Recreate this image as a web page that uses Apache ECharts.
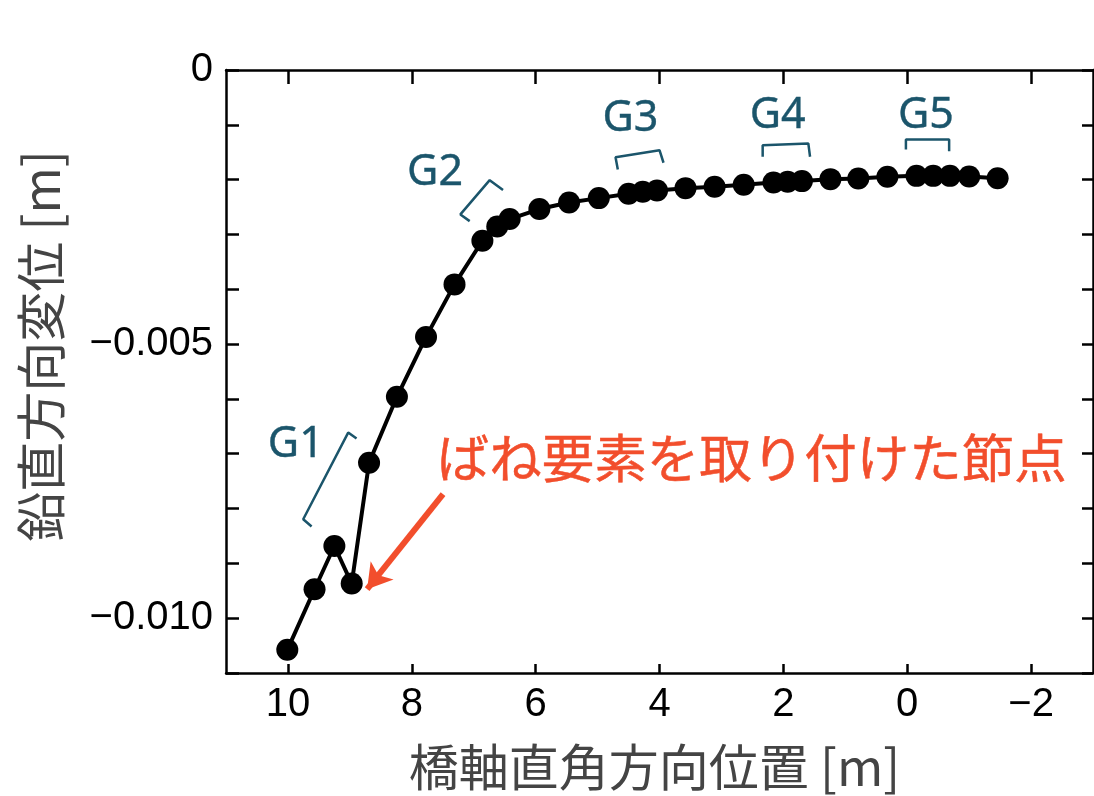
<!DOCTYPE html>
<html>
<head>
<meta charset="utf-8">
<script src="https://cdn.jsdelivr.net/npm/echarts@6/dist/echarts.min.js"></script>
<style>
  html, body { margin: 0; padding: 0; background: #fff; }
  #chart { width: 1094px; height: 796px; }
</style>
</head>
<body>
<div id="chart"></div>
<script>
// Node positions across the bridge axis [m] and their vertical displacement [m]
const nodeX = [10.01, 9.57, 9.25, 8.97, 8.69, 8.24, 7.77, 7.31, 6.86, 6.62, 6.42, 5.94, 5.46,
               4.98, 4.50, 4.27, 4.04, 3.58, 3.11, 2.64, 2.16, 1.93, 1.70, 1.24, 0.79, 0.32,
               -0.15, -0.42, -0.69, -1.00, -1.46];
const nodeY = [-0.010577, -0.009472, -0.008683, -0.009368, -0.007164, -0.005962, -0.004869,
               -0.003911, -0.003115, -0.002854, -0.002719, -0.002537, -0.002417,
               -0.002337, -0.002259, -0.002222, -0.002199, -0.002155, -0.002131, -0.002095,
               -0.002053, -0.002040, -0.002027, -0.001991, -0.001980, -0.001949,
               -0.001931, -0.001931, -0.001931, -0.001944, -0.001973];

// Axis ticks and labels
const xTickValues = [10, 8, 6, 4, 2, 0, -2];
const yLabelValues = [0, -0.005, -0.010];
const yTickValues = [0, -0.001, -0.002, -0.003, -0.004, -0.005, -0.006, -0.007, -0.008, -0.009, -0.010, -0.011];

// Girder groups: label anchor and bracket polyline, in data units
const groupNames = ['G1', 'G2', 'G3', 'G4', 'G5'];
const groupLabelX = [9.873, 7.624, 4.471, 2.092, -0.301];
const groupLabelY = [-0.006828, -0.001875, -0.000887, -0.000826, -0.000826];
const bracketX = [
  [9.618, 9.753, 9.027, 8.892],
  [7.065, 7.215, 6.742, 6.527],
  [4.673, 4.710, 4.000, 3.935],
  [2.334, 2.334, 1.597, 1.569],
  [0.021, 0.021, -0.677, -0.677]
];
const bracketY = [
  [-0.008328, -0.008195, -0.006614, -0.006724],
  [-0.002757, -0.002634, -0.002009, -0.002191],
  [-0.001814, -0.001590, -0.001462, -0.001692],
  [-0.001583, -0.001371, -0.001340, -0.001583],
  [-0.001449, -0.001267, -0.001267, -0.001480]
];

// Callout for the node carrying the spring element
const calloutText = 'ばね要素を取り付けた節点';
const calloutPos = [7.597, -0.007083];
const arrowFrom = [7.495, -0.007739];
const arrowTo = [8.721, -0.009471];

const teal = '#1b556b';
const red = '#f24e2c';
const tickFont = 'Liberation Sans, Arial, sans-serif';
const cjkFont = '"Noto Sans CJK JP", sans-serif';

const fmtNum = v => {
  if (Math.abs(v) < 1e-12) return '0';
  const s = Math.abs(v) < 1 ? Math.abs(v).toFixed(3) : String(Math.abs(v));
  return (v < 0 ? '\u2212' : '') + s;
};

const chart = echarts.init(document.getElementById('chart'), null, { renderer: 'canvas' });

const bracketSeries = bracketX.map((bx, i) => ({
  type: 'line',
  xAxisIndex: 0, yAxisIndex: 0,
  data: bx.map((x, j) => [x, bracketY[i][j]]),
  symbol: 'none',
  silent: true,
  lineStyle: { color: teal, width: 2.5 },
  z: 3
}));

const axisLineStyle = { show: true, onZero: false, lineStyle: { color: '#000', width: 2.5 } };

chart.setOption({
  animation: false,
  backgroundColor: '#fff',
  grid: { left: 226, top: 70, right: 1, bottom: 123, containLabel: false, outerBoundsMode: 'none' },
  xAxis: [
    {
      type: 'value', position: 'bottom', min: -3, max: 11, inverse: true,
      axisLine: axisLineStyle,
      axisTick: { show: true, inside: true, length: 9, customValues: xTickValues, lineStyle: { color: '#000', width: 2.5 } },
      axisLabel: { show: true, customValues: xTickValues, formatter: v => fmtNum(v), color: '#000',
                   fontFamily: tickFont, fontSize: 40, margin: 12 },
      splitLine: { show: false },
      name: '橋軸直角方向位置 [m]', nameLocation: 'middle', nameGap: 69,
      nameTextStyle: { fontFamily: cjkFont, fontSize: 50, color: '#444', padding: [0, 10, 0, 0] }
    },
    {
      type: 'value', position: 'top', min: -3, max: 11, inverse: true,
      axisLine: axisLineStyle,
      axisTick: { show: true, inside: true, length: 14, customValues: xTickValues, lineStyle: { color: '#000', width: 2.5 } },
      axisLabel: { show: false },
      splitLine: { show: false }
    }
  ],
  yAxis: [
    {
      type: 'value', position: 'left', min: -0.011, max: 0,
      axisLine: axisLineStyle,
      axisTick: { show: true, inside: true, length: 13, customValues: yTickValues, lineStyle: { color: '#000', width: 2.5 } },
      axisLabel: { show: true, customValues: yLabelValues, formatter: v => fmtNum(v), color: '#000',
                   fontFamily: tickFont, fontSize: 40, margin: 13 },
      splitLine: { show: false }
    },
    {
      type: 'value', position: 'right', min: -0.011, max: 0,
      axisLine: axisLineStyle,
      axisTick: { show: true, inside: true, length: 11, customValues: yTickValues, lineStyle: { color: '#000', width: 2.5 } },
      axisLabel: { show: false },
      splitLine: { show: false }
    }
  ],
  graphic: [{
    type: 'text',
    x: 41, y: 346, rotation: Math.PI / 2,
    style: { text: '鉛直方向変位 [m]', font: '50px "Noto Sans CJK JP", sans-serif', fill: '#444',
             align: 'center', verticalAlign: 'middle' }
  }],
  series: [
    {
      name: 'displacement',
      type: 'line',
      xAxisIndex: 0, yAxisIndex: 0,
      data: nodeX.map((x, i) => [x, nodeY[i]]),
      symbol: 'circle', symbolSize: 22,
      itemStyle: { color: '#000' },
      lineStyle: { color: '#000', width: 4 },
      z: 5
    },
    ...bracketSeries,
    {
      name: 'groups',
      type: 'scatter',
      xAxisIndex: 0, yAxisIndex: 0,
      symbolSize: 0,
      silent: true,
      itemStyle: { color: teal, opacity: 1 },
      data: groupNames.map((n, i) => ({ name: n, value: [groupLabelX[i], groupLabelY[i]] })),
      label: { show: true, position: 'inside', formatter: '{b}', color: teal, opacity: 1,
               textBorderWidth: 0.4, textBorderColor: teal,
               fontFamily: '"Noto Sans", "Open Sans", sans-serif', fontSize: 43 },
      z: 6
    },
    {
      name: 'callout',
      type: 'scatter',
      xAxisIndex: 0, yAxisIndex: 0,
      symbolSize: 0,
      silent: true,
      itemStyle: { color: red, opacity: 1 },
      data: [{ name: calloutText, value: calloutPos }],
      label: { show: true, position: 'inside', align: 'left', verticalAlign: 'middle', formatter: '{b}',
               textBorderWidth: 0.5, textBorderColor: red, opacity: 1,
               color: red, fontFamily: cjkFont, fontSize: 52.5 },
      markLine: {
        silent: true,
        symbol: ['none', 'arrow'],
        symbolSize: [22, 24],
        label: { show: false },
        lineStyle: { color: red, width: 6, type: 'solid', opacity: 1 },
        data: [[{ coord: arrowFrom }, { coord: arrowTo }]]
      },
      z: 6
    }
  ]
});
</script>
</body>
</html>
